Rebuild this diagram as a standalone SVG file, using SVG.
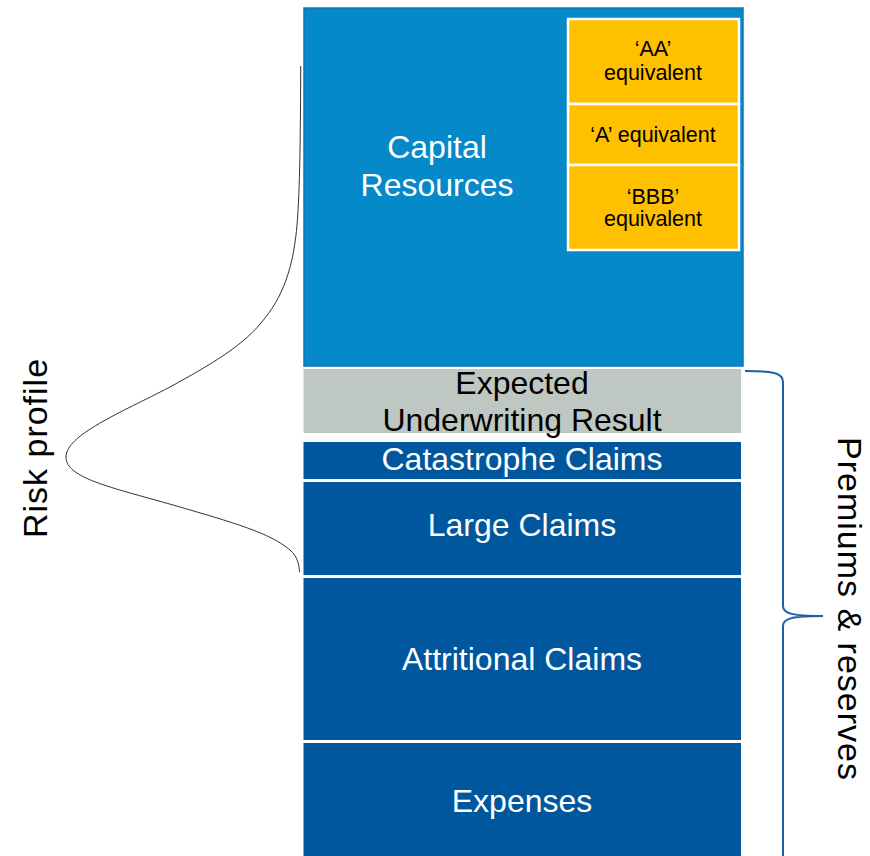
<svg xmlns="http://www.w3.org/2000/svg" width="870" height="856" viewBox="0 0 870 856">
<style>
text{font-family:"Liberation Sans",Arial,sans-serif;text-anchor:middle}
.big{font-size:32px}
.w{fill:#ffffff}
.k{fill:#000000}
.gold{fill:#ffc000;stroke:#ffffff;stroke-width:2.5}
.gt{font-size:21.5px;fill:#000000}
.dk{fill:#00579d}
.side{font-size:34px;fill:#000000;letter-spacing:1px}
</style>
<rect width="870" height="856" fill="#ffffff"/>
<g id="capital">
<rect x="304" y="8" width="439" height="358" fill="#0589c8" stroke="#0b78bd" stroke-width="1.5"/>
<text class="big w" x="437" y="158">Capital</text>
<text class="big w" x="437" y="196">Resources</text>
</g>
<g id="aa">
<rect class="gold" x="568" y="19" width="171" height="85"/>
<text class="gt" x="653" y="56">‘AA’</text>
<text class="gt" x="653" y="80">equivalent</text>
</g>
<g id="a">
<rect class="gold" x="568" y="104" width="171" height="61"/>
<text class="gt" x="653" y="142">‘A’ equivalent</text>
</g>
<g id="bbb">
<rect class="gold" x="568" y="165" width="171" height="85"/>
<text class="gt" x="653" y="204">‘BBB’</text>
<text class="gt" x="653" y="226">equivalent</text>
</g>
<g id="uw">
<rect x="303.5" y="369" width="437.5" height="64" fill="#bfc7c2"/>
<text class="big k" x="522" y="394">Expected</text>
<text class="big k" x="522" y="431">Underwriting Result</text>
</g>
<g id="cat">
<rect class="dk" x="303.5" y="442" width="437.5" height="37"/>
<text class="big w" x="522" y="470">Catastrophe Claims</text>
</g>
<g id="large">
<rect class="dk" x="303.5" y="482" width="437.5" height="93"/>
<text class="big w" x="522" y="536">Large Claims</text>
</g>
<g id="attr">
<rect class="dk" x="303.5" y="578" width="437.5" height="162"/>
<text class="big w" x="522" y="670">Attritional Claims</text>
</g>
<g id="exp">
<rect class="dk" x="303.5" y="743" width="437.5" height="120"/>
<text class="big w" x="522" y="812">Expenses</text>
</g>
<g id="connectors" fill="none">
<path d="M300.7,66 C300.5,130 300,190 297,225 C294,260 286,292 265,318 C245,345 210,365 170,387 C120,413 66,435 66,457 C66,478 110,487 173,505 C235,523 270,533 290,550 C298,557 299,565 299.5,572" stroke="#333333" stroke-width="1"/>
<path d="M745,371 C770,371 783,372 783,382 V606 C783,613 790,616 823,616 C790,616 783,619 783,626 V860" stroke="#1d5fa7" stroke-width="2"/>
</g>
<g id="labels">
<text class="side" transform="translate(47,448) rotate(-90)">Risk profile</text>
<text class="side" transform="translate(838,609) rotate(90)">Premiums &amp; reserves</text>
</g>
</svg>
